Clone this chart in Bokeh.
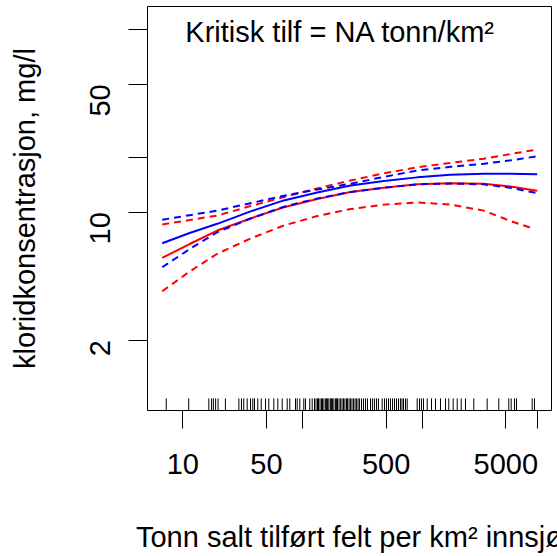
import math
from bokeh.plotting import figure
from bokeh.models import FixedTicker, Range1d, Label
from bokeh.embed import file_html
from bokeh.resources import INLINE

# ---- data ----
x_grid = [6.73, 11.4, 19.4, 36.8, 69.8, 133, 252, 478, 908, 1720, 3270, 5470, 9140]
blue_fit = [6.77, 7.70, 8.64, 10.1, 11.6, 12.8, 14.0, 14.8, 15.5, 16.0, 16.2, 16.2, 16.1]
blue_lo = [5.0, 6.29, 7.77, 9.24, 10.7, 11.9, 12.9, 13.6, 14.2, 14.35, 14.2, 13.6, 12.7]
blue_hi = [9.09, 9.63, 10.2, 11.2, 12.3, 13.3, 14.3, 15.6, 16.9, 17.7, 18.4, 19.2, 20.2]
red_fit = [5.63, 6.70, 7.94, 9.24, 10.65, 11.8, 12.9, 13.6, 14.2, 14.4, 14.3, 13.8, 13.1]
red_hi = [8.57, 9.06, 9.59, 10.8, 12.1, 13.5, 14.9, 16.3, 17.6, 18.6, 19.6, 20.8, 22.0]
x_red_lo = [6.73, 11.4, 19.4, 36.8, 69.8, 133, 252, 478, 908, 1720, 3270, 5470, 8040]
red_lo = [3.70, 4.74, 5.93, 7.18, 8.46, 9.53, 10.4, 11.0, 11.3, 11.0, 10.2, 8.95, 8.22]

rug_x = [7.27, 11.2, 16.5, 17.4, 18.0, 18.8, 19.7, 22.7, 29.4, 30.9, 32.3, 34.5, 36.8,
         38.4, 39.7, 42.3, 45.2, 49.1, 52.3, 57.6, 62.2, 67.7, 74.5, 78.3, 87.4, 90.3,
         94.9, 102.5, 105.9, 115, 120.5, 126, 129.7, 133.5, 136, 140, 144, 147, 151,
         156, 159, 162, 166, 171, 175, 178, 183, 189, 192, 196, 202, 208, 214, 220,
         226, 233, 238, 245, 252, 259, 267, 275, 282, 291, 299, 311, 323, 336, 349,
         370, 384, 399, 415, 431, 463, 484, 503, 523, 543, 565, 587, 610, 634, 658,
         678, 698, 725, 749, 908, 949, 986, 1025, 1101, 1196, 1291, 1422, 1565, 1668,
         1815, 1961, 2117, 2300, 2698, 3491, 4363, 5288, 5539, 5902, 6134, 8297, 8672]

x_ticks = [10, 50, 100, 500, 1000, 5000, 9140]
x_tick_labels = ["10", "50", "", "500", "", "5000", ""]
y_ticks = [2, 10, 20, 50, 100]
y_tick_labels = ["2", "10", "", "50", ""]

title_text = "Kritisk tilf = NA tonn/km²"
x_title = "Tonn salt tilført felt per km² innsjø"
y_title = "kloridkonsentrasjon, mg/l"

x_lim = (5.07, 12030)
y_lim = (0.8246, 133.1)

FONT = "Liberation Sans"
FS = "29px"

p = figure(width=557, height=556, x_axis_type="log", y_axis_type="log",
           x_range=Range1d(*x_lim), y_range=Range1d(*y_lim),
           output_backend="svg", toolbar_location=None,
           min_border_left=147, min_border_right=6, min_border_top=6, min_border_bottom=146)

p.background_fill_color = "white"
p.border_fill_color = "white"
p.outline_line_color = "black"
p.outline_line_width = 1
p.xgrid.visible = False
p.ygrid.visible = False

for ax, ticks, labels, out in ((p.xaxis[0], x_ticks, x_tick_labels, 18),
                               (p.yaxis[0], y_ticks, y_tick_labels, 19)):
    ax.ticker = FixedTicker(ticks=ticks, minor_ticks=[])
    ax.major_label_overrides = {t: l for t, l in zip(ticks, labels)}
    ax.major_tick_out = out
    ax.major_tick_in = 0
    ax.major_tick_line_color = "black"
    ax.minor_tick_line_color = None
    ax.axis_line_color = None
    ax.major_label_text_font = FONT
    ax.major_label_text_font_size = FS
    ax.major_label_text_color = "black"
    ax.axis_label_text_font = FONT
    ax.axis_label_text_font_size = FS
    ax.axis_label_text_font_style = "normal"
    ax.axis_label_text_color = "black"

p.xaxis.axis_label = x_title
p.yaxis.axis_label = y_title
p.xaxis.major_label_standoff = 25
p.xaxis.axis_label_standoff = 44
p.yaxis.major_label_standoff = 28
p.yaxis.major_label_orientation = math.pi / 2
p.yaxis.axis_label_standoff = 37

# rug (R default ticksize = 3% of plot height)
lo, hi = y_lim
rug_top = lo * (hi / lo) ** 0.03
p.segment(x0=rug_x, x1=rug_x, y0=[lo] * len(rug_x), y1=[rug_top] * len(rug_x),
          line_color="black", line_width=1)

DASH = "7 5"
p.line(x_grid, red_fit, line_color="#FF0000", line_width=2)
p.line(x_grid, red_hi, line_color="#FF0000", line_width=2, line_dash=DASH)
p.line(x_red_lo, red_lo, line_color="#FF0000", line_width=2, line_dash=DASH)
p.line(x_grid, blue_fit, line_color="#0000FF", line_width=2)
p.line(x_grid, blue_hi, line_color="#0000FF", line_width=2, line_dash=DASH)
p.line(x_grid, blue_lo, line_color="#0000FF", line_width=2, line_dash=DASH)

title_x = 207.6
yt = hi * (lo / hi) ** 0.064
p.add_layout(Label(x=title_x, y=yt, text=title_text, text_align="center",
                   text_baseline="middle", text_font=FONT, text_font_size=FS,
                   text_color="black"))

open("out.html", "w").write(file_html(p, INLINE))
